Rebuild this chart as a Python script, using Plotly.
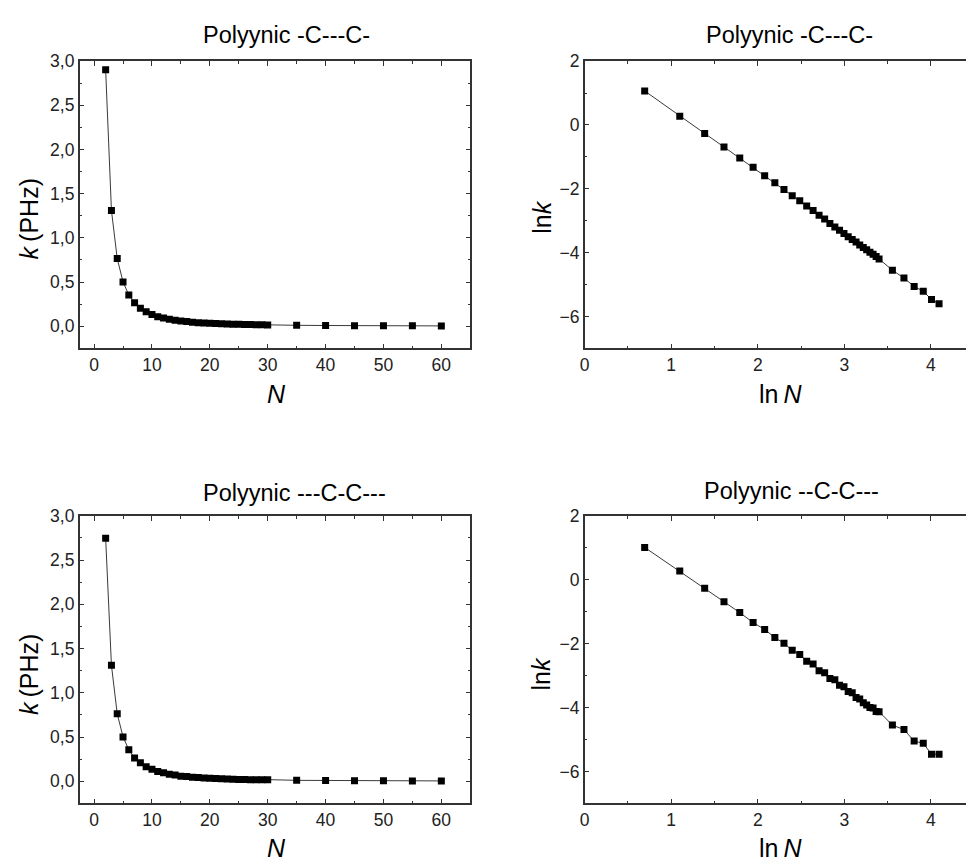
import numpy as np
import plotly.graph_objects as go

# ---------------- data ----------------
N = [2, 3, 4, 5, 6, 7, 8, 9, 10, 11, 12, 13, 14, 15, 16, 17, 18, 19, 20,
     21, 22, 23, 24, 25, 26, 27, 28, 29, 30, 35, 40, 45, 50, 55, 60]

# k (PHz), polyynic -C---C-
k_top = [2.901, 1.310, 0.766, 0.5016, 0.3535, 0.2645, 0.2039, 0.1628, 0.1327,
         0.1086, 0.0926, 0.0789, 0.0686, 0.0590, 0.0523, 0.0455, 0.0408, 0.0369,
         0.0334, 0.0302, 0.0276, 0.0255, 0.0233, 0.0215, 0.0200, 0.0185, 0.0174,
         0.0162, 0.0150, 0.01057, 0.00823, 0.00635, 0.00546, 0.00421, 0.00370]

# k (PHz), polyynic ---C-C---
k_bot = [2.746, 1.310, 0.763, 0.5016, 0.357, 0.2618, 0.2101, 0.1637, 0.1367,
         0.1097, 0.0963, 0.0781, 0.0714, 0.0578, 0.0545, 0.0455, 0.0437, 0.0369,
         0.0351, 0.0302, 0.0290, 0.0250, 0.0240, 0.0213, 0.0198, 0.0183, 0.0181,
         0.0162, 0.0161, 0.01057, 0.00919, 0.00641, 0.00598, 0.00425, 0.00425]

titles = ["Polyynic -C---C-", "Polyynic -C---C-",
          "Polyynic ---C-C---", "Polyynic --C-C---"]

k_tickvals = [0.0, 0.5, 1.0, 1.5, 2.0, 2.5, 3.0]
k_ticktext = ["0,0", "0,5", "1,0", "1,5", "2,0", "2,5", "3,0"]
N_tickvals = [0, 10, 20, 30, 40, 50, 60]
lnN_tickvals = [0, 1, 2, 3, 4]
lnk_tickvals = [-6, -4, -2, 0, 2]

# ---------------- figure ----------------
W, H = 966, 864
FONT = "Liberation Sans, Arial, sans-serif"

def px_x(p):
    return p / W

def px_y(p):
    return 1 - p / H

lnN = np.log(np.array(N, dtype=float))
series = [
    (N, k_top, "x", "y"),
    (lnN, np.log(k_top), "x2", "y2"),
    (N, k_bot, "x3", "y3"),
    (lnN, np.log(k_bot), "x4", "y4"),
]

fig = go.Figure()
for xs, ys, xa, ya in series:
    fig.add_trace(go.Scatter(
        x=xs, y=ys, xaxis=xa, yaxis=ya, mode="lines+markers",
        line=dict(color="#3a3a3a", width=1),
        marker=dict(symbol="square", size=7, color="black"),
        showlegend=False, hoverinfo="skip"))

tickfont = dict(family=FONT, size=17.5, color="#222")
common = dict(showline=True, linecolor="#333", linewidth=1.5, ticks="inside",
              ticklen=5, tickcolor="#333", tickwidth=1, showgrid=False,
              zeroline=False, tickfont=tickfont)
minor = dict(ticks="inside", ticklen=3, tickcolor="#333", tickwidth=1, showgrid=False)

row_y = [(51.7, 342.3), (511.7, 802.7)]
left_x = (75, 467.7)
right_x = (582.7, 966)

layout = dict(width=W, height=H, margin=dict(l=0, r=0, t=0, b=0),
              paper_bgcolor="white", plot_bgcolor="white")

for i, (ytop, ybot) in enumerate(row_y):
    ydom = [px_y(ybot), px_y(ytop)]
    a = 2 * i + 1
    b = 2 * i + 2
    sa = "" if a == 1 else str(a)
    sb = str(b)
    # left (k vs N)
    layout["xaxis" + sa] = dict(common, domain=[px_x(left_x[0]), px_x(left_x[1])],
                                range=[-2.5, 65], tickvals=N_tickvals, mirror="ticks",
                                anchor="y" + sa, minor=dict(minor, dtick=5, tick0=0))
    layout["yaxis" + sa] = dict(common, domain=ydom, range=[-0.25, 3.0],
                                tickvals=k_tickvals, ticktext=k_ticktext, mirror="ticks",
                                anchor="x" + sa, minor=dict(minor, dtick=0.25, tick0=0))
    # right (ln k vs ln N)
    layout["xaxis" + sb] = dict(common, domain=[px_x(right_x[0]), 1.0],
                                range=[0, (right_x[1] - right_x[0]) / 87.0],
                                tickvals=lnN_tickvals, mirror="ticks",
                                anchor="y" + sb, minor=dict(minor, dtick=0.5, tick0=0))
    layout["yaxis" + sb] = dict(common, domain=ydom, range=[-7, 2],
                                tickvals=lnk_tickvals, mirror=False,
                                anchor="x" + sb, minor=dict(minor, dtick=1, tick0=0))

fig.update_layout(**layout)

ann = []
title_pos = [(283, 25), (789, 25), (291, 489), (791, 487)]
for t, (x, y) in zip(titles, title_pos):
    ann.append(dict(text=t, x=px_x(x), y=px_y(y), xref="paper", yref="paper",
                    showarrow=False, font=dict(family=FONT, size=23.5, color="black"),
                    xanchor="center", yanchor="middle"))

axis_titles = [
    ("<i>N</i>", 273, 388, 0), ("ln&#8201;<i>N</i>", 780, 388, 0),
    ("<i>N</i>", 273, 848, 0), ("ln&#8201;<i>N</i>", 780, 848, 0),
    ("<i>k</i>&#8201;(PHz)", 24, 211, -90), ("ln<i>k</i>", 539, 210, -90),
    ("<i>k</i>&#8201;(PHz)", 24, 672, -90), ("ln<i>k</i>", 539, 672, -90),
]
for t, x, y, ang in axis_titles:
    ann.append(dict(text=t, x=px_x(x), y=px_y(y), xref="paper", yref="paper",
                    showarrow=False, textangle=ang,
                    font=dict(family=FONT, size=25, color="black"),
                    xanchor="center", yanchor="middle"))
fig.update_layout(annotations=ann)

fig.write_html("out.html")
